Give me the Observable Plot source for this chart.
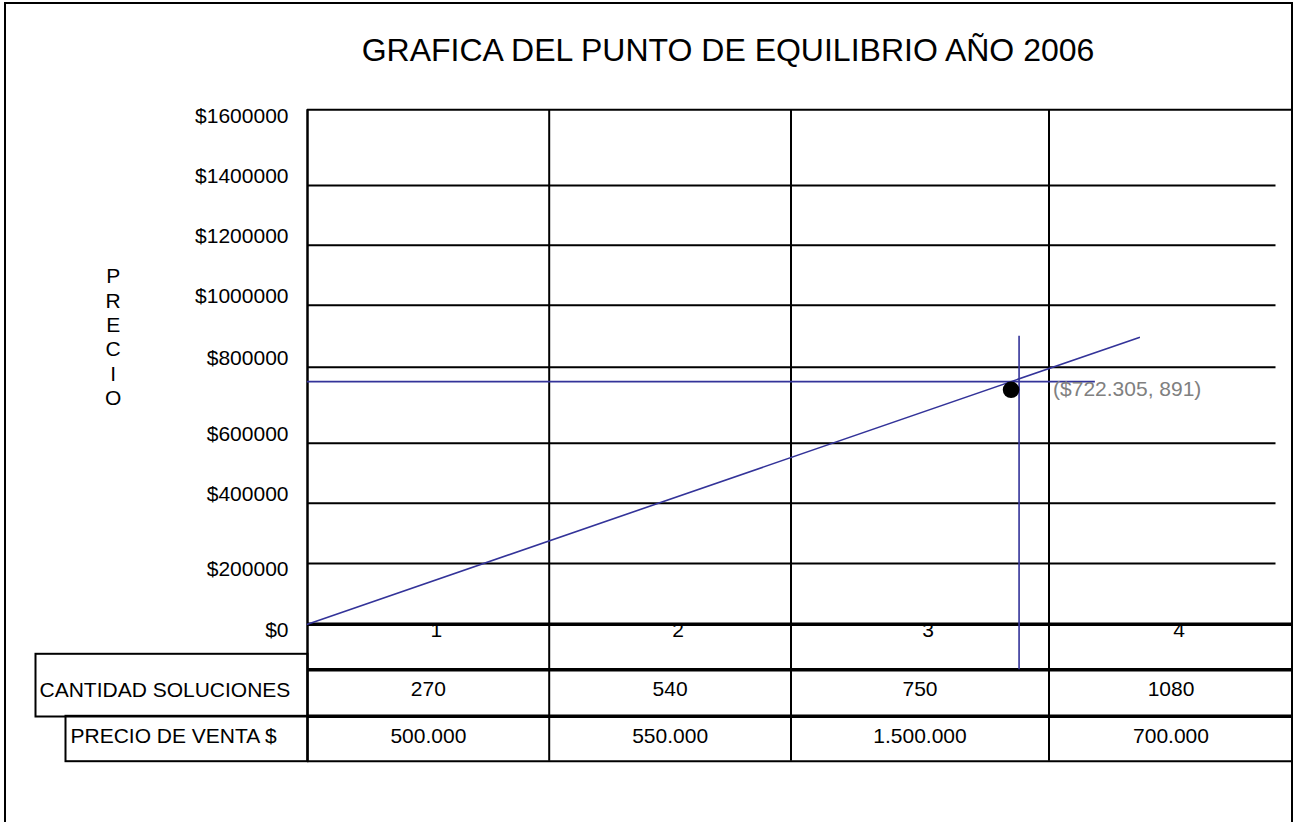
<!DOCTYPE html>
<html>
<head>
<meta charset="utf-8">
<script src="https://cdn.jsdelivr.net/npm/d3@7"></script>
<script src="https://cdn.jsdelivr.net/npm/@observablehq/plot@0.6"></script>
<style>
  html, body { margin: 0; padding: 0; background: #fff; overflow: hidden; }
  #wrap { position: relative; width: 1294px; height: 822px; font-family: "Liberation Sans", Arial, sans-serif; }
  #chart { position: absolute; left: 0; top: 0; }
  #title { position: absolute; left: 728px; top: 50px; transform: translate(-50%, -50%); font-size: 32px; white-space: nowrap; color: #000; }
  #border { position: absolute; left: 4px; top: 2px; width: 1285px; height: 900px; border: 2px solid #000; border-bottom: none; pointer-events: none; }
</style>
</head>
<body>
<div id="wrap">
  <div id="chart"></div>
  <div id="title">GRAFICA DEL PUNTO DE EQUILIBRIO AÑO 2006</div>
  <div id="border"></div>
</div>
<script>
// ---- data ----
const categories = ["1", "2", "3", "4"];
const cantidadSoluciones = [270, 540, 750, 1080];
const precioVenta = ["500.000", "550.000", "1.500.000", "700.000"];
const yTicks = [0, 200000, 400000, 600000, 800000, 1000000, 1200000, 1400000, 1600000];
const labelsBelowGrid = [0, 200000, 1600000];
const ventasX = [0, 3.37];          // column units
const ventasY = [0, 896000];        // precio
const equilibrioX = [2.884];
const equilibrioY = [762000];
const puntoX = [2.853];
const puntoY = [740500];
const puntoLabel = ["($722.305, 891)"];
const rowLabels = ["CANTIDAD SOLUCIONES", "PRECIO DE VENTA $"];
const axisTitle = "PRECIO";

// ---- layout (scale ranges, table offsets) ----
const W = 1294, H = 822;
const xRange = [307, 548.7, 790.5, 1048.5, 1292.5];
const yRange = [623.7, 563, 502.7, 442.7, 366.7, 304.7, 244.7, 185, 109.3];
const mTop = 109.3, mBottom = H - 623.7, mLeft = 307, mRight = W - 1292.5;
const row1 = 45.6, row2 = 92, row3 = 137;
const blue = "#333399";

const ventas = ventasX.map((x, i) => ({x, y: ventasY[i]}));
const punto = puntoX.map((x, i) => ({x, y: puntoY[i], label: puntoLabel[i]}));
const cols = categories.map((c, i) => ({i, c, q: String(cantidadSoluciones[i]), p: precioVenta[i]}));

const chart = Plot.plot({
  width: W,
  height: H,
  marginTop: mTop,
  marginBottom: mBottom,
  marginLeft: mLeft,
  marginRight: mRight,
  style: {fontFamily: "'Liberation Sans', Arial, sans-serif", fontSize: "21px", background: "transparent", overflow: "visible", color: "#000"},
  x: {type: "linear", domain: [0, 1, 2, 3, 4], range: xRange, axis: null},
  y: {type: "linear", domain: yTicks, range: yRange, axis: null},
  marks: [
    // horizontal gridlines
    Plot.ruleY(yTicks.filter(v => v > 0 && v < 1600000), {stroke: "#000", strokeWidth: 2, insetRight: 17}),
    Plot.ruleY([1600000], {stroke: "#000", strokeWidth: 2}),
    // vertical column lines (through the table)
    Plot.ruleX([1, 2, 3], {stroke: "#000", strokeWidth: 2, insetBottom: -row3}),
    Plot.ruleX([0], {stroke: "#000", strokeWidth: 2.5, insetBottom: -row3}),
    // table row lines
    Plot.ruleY([0], {stroke: "#000", strokeWidth: 3.5, dy: row1}),
    Plot.ruleY([0], {stroke: "#000", strokeWidth: 3.5, dy: row2}),
    Plot.ruleY([0], {stroke: "#000", strokeWidth: 2, dy: row3}),
    // left label boxes
    Plot.frame({stroke: "#000", strokeWidth: 2, insetLeft: -272, insetRight: 985.5, insetTop: 544, insetBottom: -92.3}),
    Plot.frame({stroke: "#000", strokeWidth: 2, insetLeft: -242, insetRight: 985.5, insetTop: 606, insetBottom: -137}),
    // y tick labels
    Plot.text(yTicks.filter(v => !labelsBelowGrid.includes(v)), {y: d => d, frameAnchor: "left", lineAnchor: "middle", dx: -19, dy: -9, textAnchor: "end", text: d => "$" + d, fontSize: 21}),
    Plot.text(labelsBelowGrid, {y: d => d, frameAnchor: "left", lineAnchor: "middle", dx: -19, dy: 6, textAnchor: "end", text: d => "$" + d, fontSize: 21}),
    // axis title
    Plot.text([axisTitle], {frameAnchor: "left", lineAnchor: "middle", textAnchor: "middle", dx: -194.3, dy: -30.7, text: d => d.split("").join("\n"), lineHeight: 1.157, fontSize: 21}),
    // category labels
    Plot.text(cols, {x: d => d.i + 0.5, frameAnchor: "bottom", lineAnchor: "middle", dx: 8, dy: 6.3, text: "c", fontSize: 21}),
    // table values
    Plot.text(cols, {x: d => d.i + 0.5, frameAnchor: "bottom", lineAnchor: "middle", dy: 65, text: "q", fontSize: 21}),
    Plot.text(cols, {x: d => d.i + 0.5, frameAnchor: "bottom", lineAnchor: "middle", dy: 111.6, text: "p", fontSize: 21}),
    // row labels
    Plot.text([rowLabels[0]], {frameAnchor: "bottom-left", lineAnchor: "middle", dx: -268, dy: 65.8, textAnchor: "start", fontSize: 21}),
    Plot.text([rowLabels[1]], {frameAnchor: "bottom-left", lineAnchor: "middle", dx: -237, dy: 112, textAnchor: "start", fontSize: 21}),
    // base line (drawn over category labels)
    Plot.ruleY([0], {stroke: "#000", strokeWidth: 3.5}),
    // break-even lines
    Plot.line(ventas, {x: "x", y: "y", stroke: blue, strokeWidth: 1.6}),
    Plot.ruleY(equilibrioY, {x1: 0, x2: 3.19, stroke: blue, strokeWidth: 1.6}),
    Plot.ruleX(equilibrioX, {y1: 900000, y2: 0, insetBottom: -row1, stroke: blue, strokeWidth: 1.6}),
    Plot.dot(punto, {x: "x", y: "y", r: 8.3, fill: "#000", stroke: "none"}),
    Plot.text(punto, {x: "x", y: "y", text: "label", dx: 42, dy: -1, textAnchor: "start", fill: "#808080", fontSize: 21})
  ]
});
document.getElementById("chart").appendChild(chart);
</script>
</body>
</html>
